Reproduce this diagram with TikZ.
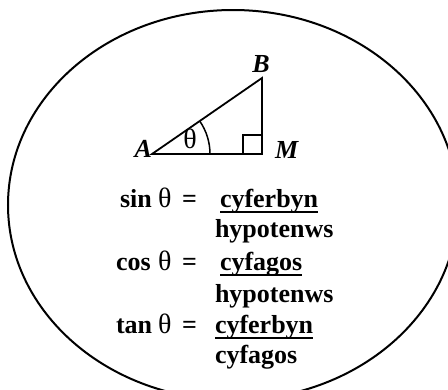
\documentclass[tikz,border=0pt]{standalone}
\usepackage{fontspec}
\setmainfont{Liberation Serif}
\begin{document}
\begin{tikzpicture}[x=1pt,y=-1pt,
  txt/.style={inner sep=0pt,outer sep=0pt,font=\fontsize{26}{30}\selectfont\bfseries},
  lbl/.style={inner sep=0pt,outer sep=0pt,font=\fontsize{26}{30}\selectfont\bfseries\itshape},
  th/.style={inner sep=0pt,outer sep=0pt,font=\fontsize{28}{32}\selectfont},
  edge/.style={line width=1.8pt,line join=miter},
  uline/.style={line width=1.6pt}]
\useasboundingbox (0,0) rectangle (448,389);
\begin{scope}
\clip (0,0) rectangle (448,389);
\draw[line width=2pt] (233,205) ellipse [x radius=225, y radius=195];
\end{scope}
% triangle
\coordinate (A) at (152,154);
\coordinate (M) at (262,154);
\coordinate (B) at (262,78);
\draw[edge] (A) -- (M) -- (B) -- cycle;
\draw[line width=1.5pt] (243,154) -- (243,135) -- (262,135);
\draw[line width=1.5pt] ([xshift=58pt]A) arc[start angle=0,end angle=-34.6,radius=58];
\node[th,anchor=base] (thA) at (190,148) {θ};
\node[lbl,anchor=base east] (lA) at (152,157) {A};
\node[lbl,anchor=base] (lB) at (261,72) {B};
\node[lbl,anchor=base west] (lM) at (275,158) {M};
% sin
\node[txt,anchor=base west] (sinf) at (120,207) {sin};
\node[th,anchor=base west] (sint) at (158,207) {θ};
\node[txt,anchor=base west] (sineq) at (182,207) {=};
\node[txt,anchor=base west] (sinn) at (220,207) {cyferbyn};
\node[txt,anchor=base west] (sind) at (215,237) {hypotenws};
\draw[uline] ([yshift=-5pt]sinn.base west) -- ([yshift=-5pt]sinn.base east);
% cos
\node[txt,anchor=base west] (cosf) at (116,270) {cos};
\node[th,anchor=base west] (cost) at (158,270) {θ};
\node[txt,anchor=base west] (coseq) at (182,270) {=};
\node[txt,anchor=base west] (cosn) at (220,270) {cyfagos};
\node[txt,anchor=base west] (cosd) at (215,302) {hypotenws};
\draw[uline] ([yshift=-5pt]cosn.base west) -- ([yshift=-5pt]cosn.base east);
% tan
\node[txt,anchor=base west] (tanf) at (116,333) {tan};
\node[th,anchor=base west] (tant) at (158,333) {θ};
\node[txt,anchor=base west] (taneq) at (182,333) {=};
\node[txt,anchor=base west] (tann) at (215,333) {cyferbyn};
\node[txt,anchor=base west] (tand) at (215,363) {cyfagos};
\draw[uline] ([yshift=-5pt]tann.base west) -- ([yshift=-5pt]tann.base east);
\end{tikzpicture}
\end{document}
